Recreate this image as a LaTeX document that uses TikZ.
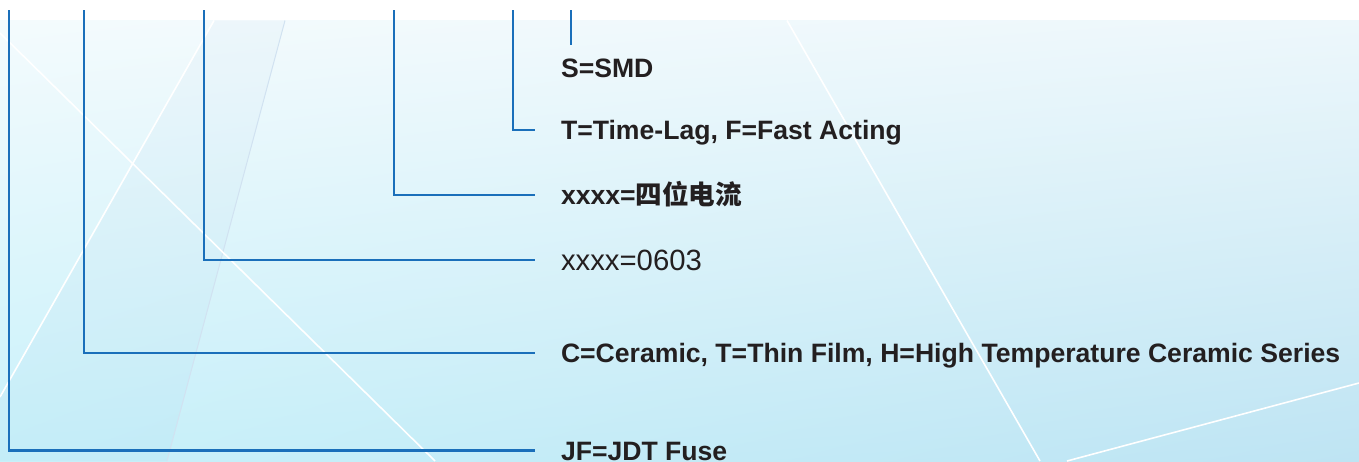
\documentclass[tikz,border=0pt]{standalone}
\usepackage{fontspec}
\setmainfont{Liberation Sans}
\newfontfamily\cjk{Noto Sans CJK SC}
\usepackage{tikz}
\usetikzlibrary{shadings}
\definecolor{pnblue}{HTML}{1A6FBA}
\definecolor{pntext}{HTML}{231F20}
\definecolor{bgtl}{HTML}{F4FBFD}
\definecolor{bgtr}{HTML}{EDF7FB}
\definecolor{bgbl}{HTML}{C8F1FA}
\definecolor{bgbr}{HTML}{BEE4F3}

\begin{document}
\begin{tikzpicture}[x=1pt,y=-1pt,
    lead/.style={line width=2.4pt,draw=pnblue},
    code/.style={anchor=west,inner sep=0,outer xsep=26pt,text=pntext,
        text height=19pt,text depth=0pt,font=\fontsize{26.6}{30}\selectfont\bfseries},
    glint/.style={draw=white,line width=1.6pt}]
    \useasboundingbox (0,0) rectangle (1359,461);
    % background
    \fill[white] (0,0) rectangle (1359,20.5);
    \shade[upper left=bgtl,upper right=bgtr,lower left=bgbl,lower right=bgbr] (0,20.5) rectangle (1359,461);
    \fill[pnblue,opacity=0.025] (215,20.5) -- (285,20.5) -- (167,461) -- (0,461) -- (0,397) -- cycle;
    \draw[draw=pnblue!20,line width=1pt] (285,20.5) -- (167,461);
    \draw[glint] (0,33) -- (435,461);
    \draw[glint] (214,20.5) -- (0,397);
    \draw[glint] (787,20.5) -- (1040,461);
    \draw[glint] (1067,461) -- (1359,383);

    % line tops
    \coordinate(t1) at (9,10);
    \coordinate(t2) at (84,10);
    \coordinate(t3) at (204,10);
    \coordinate(t4) at (394,10);
    \coordinate(t5) at (513,10);
    \coordinate(t6) at (571,10);

    \node(smd)[code,outer ysep=14pt] at (535,68) {S=SMD};
    \node(lag)[code] at (535,130) {T=Time-Lag, F=Fast Acting};
    \node(amp)[code] at (535,195) {xxxx={\cjk 四位电流}};
    \node(size)[code,text height=21pt,font=\fontsize{29.3}{33}\selectfont] at (535,260) {xxxx=0603};
    \node(mat)[code] at (535,353) {C=Ceramic, T=Thin Film, H=High Temperature Ceramic Series};
    \node(jf)[code] at (535,450.5) {JF=JDT Fuse};

    \draw[lead] (t6) -- (t6 |- smd.north);
    \draw[lead] (t5) |- (lag.west);
    \draw[lead] (t4) |- (amp.west);
    \draw[lead] (t3) |- (size.west);
    \draw[lead] (t2) |- (mat.west);
    \draw[lead] (t1) |- (jf.west);
\end{tikzpicture}
\end{document}
